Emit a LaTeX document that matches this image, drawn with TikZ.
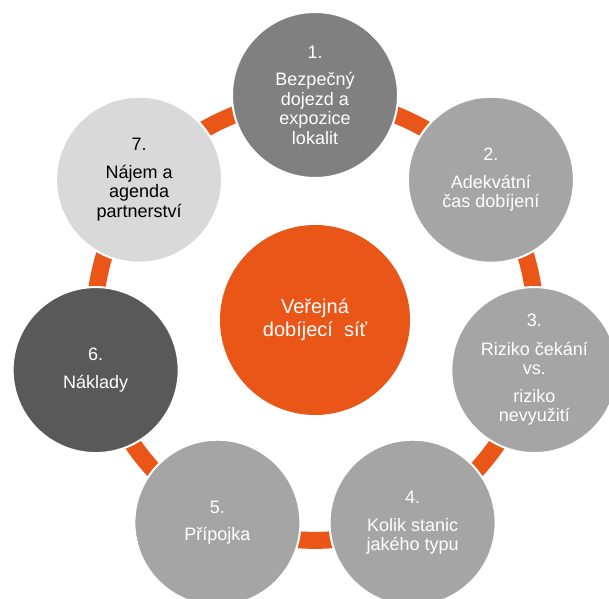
\documentclass[tikz,border=0pt]{standalone}
\usepackage{fontspec}
\setmainfont{Liberation Sans}
\usetikzlibrary{backgrounds}
\definecolor{netorange}{RGB}{233,86,23}
\definecolor{greymid}{RGB}{128,128,128}
\definecolor{greylight}{RGB}{165,165,165}
\definecolor{greydark}{RGB}{89,89,89}
\definecolor{greypale}{RGB}{217,217,217}
\tikzset{
    stage/.style={circle, minimum size=166pt, inner sep=0pt, draw=white, line width=2pt,
        align=center, text=white, font=\fontsize{18}{19.5}\selectfont},
    hubnode/.style={circle, minimum size=190pt, inner sep=0pt, fill=netorange,
        align=center, text=white, font=\fontsize{20}{23}\selectfont},
    link/.style={draw=netorange, line width=17pt}
}
\begin{document}
\begin{tikzpicture}[x=1pt,y=1pt]
                \def\R{225};
                \useasboundingbox (0,0) rectangle (609,598);
                \node[hubnode] (hub) at (315,278) {Veřejná\\dobíjecí\ \ síť};
                \node[stage, fill=greymid] (s1) at ([shift={(90:\R)}]hub.center) {1.\\[8pt]Bezpečný\\dojezd a\\expozice\\lokalit};
                \node[stage, fill=greylight] (s2) at ([shift={(38.57:\R)}]hub.center) {2.\\[8pt]Adekvátní\\čas dobíjení};
                \node[stage, fill=greylight] (s3) at ([shift={(-12.86:\R)}]hub.center) {3.\\[9pt]Riziko čekání\\vs.\\[8pt]riziko\\nevyužití};
                \node[stage, fill=greylight] (s4) at ([shift={(-64.29:\R)}]hub.center) {4.\\[8pt]Kolik stanic\\jakého typu};
                \node[stage, fill=greylight] (s5) at ([shift={(-115.71:\R)}]hub.center) {5.\\[8pt]Přípojka};
                \node[stage, fill=greydark] (s6) at ([shift={(-167.14:\R)}]hub.center) {6.\\[8pt]Náklady};
                \node[stage, fill=greypale, text=black] (s7) at ([shift={(141.43:\R)}]hub.center) {7.\\[8pt]Nájem a\\agenda\\partnerství};
                \begin{scope}[on background layer]
                \foreach \a/\b in {s1/s2,s2/s3,s3/s4,s4/s5,s5/s6,s6/s7,s7/s1}{
                    \draw[link] (\a.center) to[bend left=18] (\b.center);}
                \end{scope}
            \end{tikzpicture}
\end{document}
